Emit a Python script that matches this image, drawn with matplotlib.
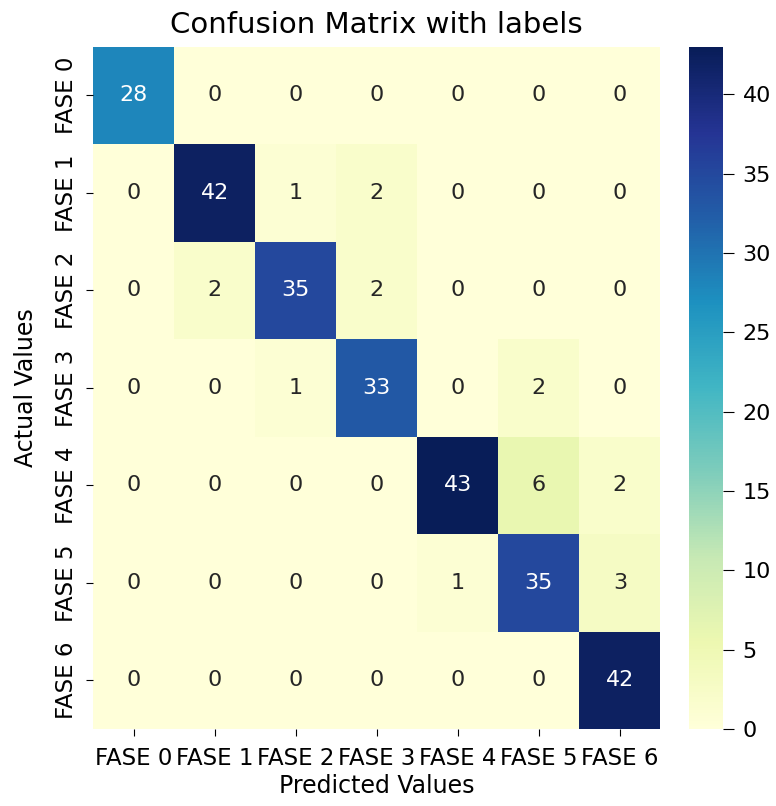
import matplotlib
matplotlib.use("Agg")
import matplotlib.pyplot as plt
import seaborn as sns
import numpy as np

labels = ["FASE 0", "FASE 1", "FASE 2", "FASE 3", "FASE 4", "FASE 5", "FASE 6"]
row0 = [28, 0, 0, 0, 0, 0, 0]
row1 = [0, 42, 1, 2, 0, 0, 0]
row2 = [0, 2, 35, 2, 0, 0, 0]
row3 = [0, 0, 1, 33, 0, 2, 0]
row4 = [0, 0, 0, 0, 43, 6, 2]
row5 = [0, 0, 0, 0, 1, 35, 3]
row6 = [0, 0, 0, 0, 0, 0, 42]

cm = np.array([row0, row1, row2, row3, row4, row5, row6])

fig = plt.figure(figsize=(7.76, 8.06), dpi=100)
ax = fig.add_axes([0.120, 0.0955, 0.731, 0.8465])
cax = fig.add_axes([0.888, 0.0955, 0.044, 0.8465])
sns.heatmap(cm, annot=True, fmt="d", cmap="YlGnBu", ax=ax, cbar_ax=cax,
            annot_kws={"size": 16})
ax.set_title("Confusion Matrix with labels", fontsize=21, pad=10)
ax.set_xlabel("Predicted Values", fontsize=17, labelpad=3)
ax.set_ylabel("Actual Values", fontsize=17, labelpad=12)
ax.set_xticklabels(labels, fontsize=16.5)
ax.set_yticklabels(labels, fontsize=16.5)
ax.tick_params(axis="x", length=5, pad=8)
ax.tick_params(axis="y", length=5, pad=6)
cax.tick_params(labelsize=16, length=8, pad=6)
fig.savefig("out.png")
